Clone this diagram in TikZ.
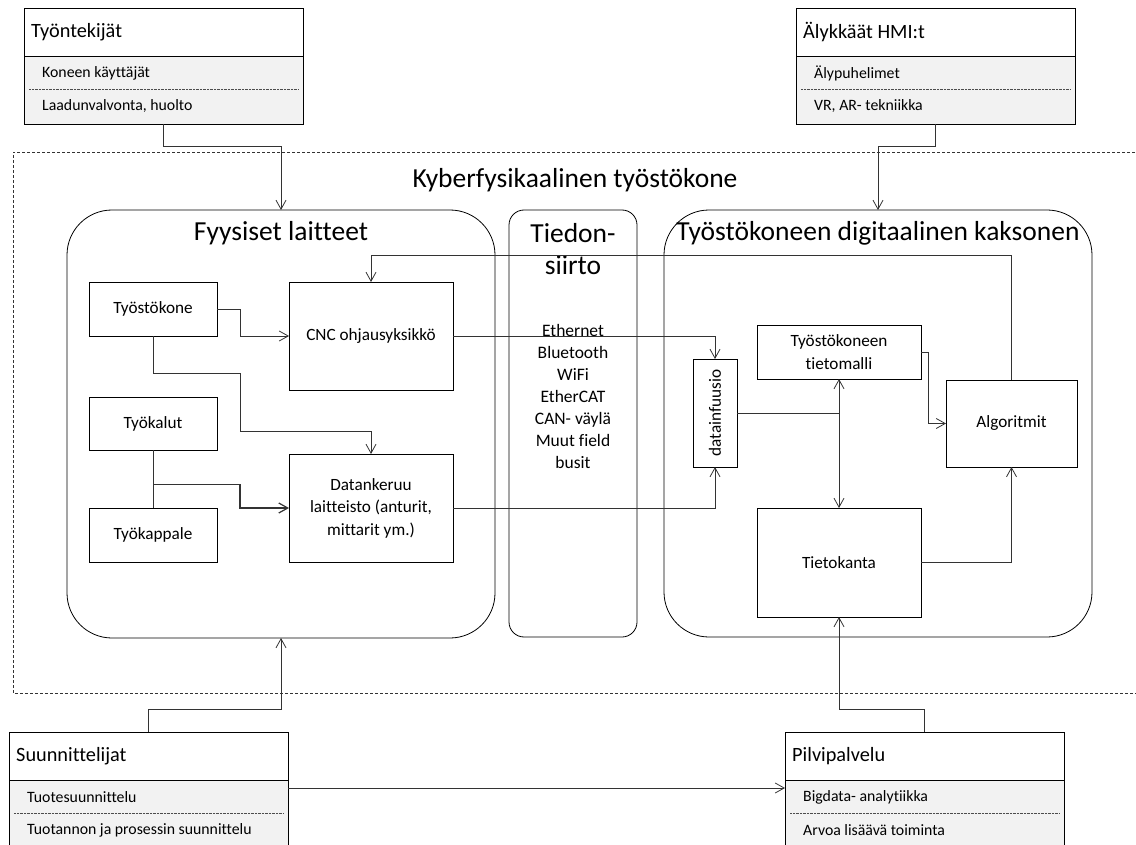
\documentclass[tikz,border=0pt]{standalone}
\usepackage{fontspec}
\setmainfont[Ligatures=NoCommon]{Carlito}
\usetikzlibrary{arrows.meta}

\tikzset{
  >={Straight Barb[length=9pt,width=10pt]},
  conn/.style={draw=black!80, line width=0.8pt},
  box/.style={draw, line width=0.8pt, fill=white, outer sep=0pt, align=center,
    font=\fontsize{17.2}{22.5}\selectfont},
  alue/.style={draw, line width=0.8pt, outer sep=0pt},
  otsikko/.style={font=\fontsize{27.5}{32}\selectfont, align=center},
  otsake/.style={draw, line width=0.8pt, fill=white, anchor=north west, outer sep=0pt,
    minimum width=279pt, minimum height=48pt},
  runko/.style={draw, line width=0.8pt, fill=black!5, anchor=north west, outer sep=0pt,
    minimum width=279pt, minimum height=68pt},
  otsaketeksti/.style={anchor=west, inner sep=0pt, font=\fontsize{20.3}{24}\selectfont},
  kohta/.style={anchor=west, inner sep=0pt, font=\fontsize{15.8}{19}\selectfont}
}

\begin{document}
\begin{tikzpicture}[x=1pt, y=-1pt]
    \clip (0,0) rectangle (1136,845);
    % Cyber-physical machine tool frame
    \draw[dash pattern=on 3pt off 2pt, black!80] (1140,152) -- (13,152) -- (13,693) -- (1140,693);
    \node[otsikko] (cps) at (575,180) {Kyberfysikaalinen työstökone};
    % Areas
    \node[alue, rounded corners=45pt, minimum width=428pt, minimum height=428pt] (fyys) at (281,424) {};
    \node[otsikko] (fyys-t) at (281,233) {Fyysiset laitteet};
    \node[alue, rounded corners=15pt, minimum width=128pt, minimum height=427pt] (siirto) at (573,423.5) {};
    \node[otsikko] (siirto-t) at (573,249) {Tiedon-\\siirto};
    \node[align=center, font=\fontsize{17.5}{22}\selectfont] (vaylat) at (573,396)
      {Ethernet\\Bluetooth\\WiFi\\EtherCAT\\CAN- väylä\\Muut field\\busit};
    \node[alue, rounded corners=45pt, minimum width=428pt, minimum height=427pt] (twin) at (878,423.5) {};
    \node[otsikko] (twin-t) at (878,233) {Työstökoneen digitaalinen kaksonen};
    % Physical devices
    \node[box, minimum width=128pt, minimum height=54pt] (tyostokone) at (153,309) {Työstökone};
    \node[box, minimum width=128pt, minimum height=53pt] (tyokalut) at (153,423.5) {Työkalut};
    \node[box, minimum width=128pt, minimum height=54pt] (tyokappale) at (153,535) {Työkappale};
    \node[box, minimum width=164pt, minimum height=108pt] (cnc) at (371,336) {CNC ohjausyksikkö};
    \node[box, minimum width=164pt, minimum height=108pt] (datankeruu) at (371,508)
      {Datankeruu\\laitteisto (anturit,\\mittarit ym.)};
    % Digital twin
    \node[box, minimum width=44pt, minimum height=108pt] (fuusio) at (715,413) {};
    \node[rotate=90, font=\fontsize{17.2}{20}\selectfont] (fuusio-t) at (fuusio) {datainfuusio};
    \node[box, minimum width=164pt, minimum height=54pt] (tietomalli) at (839,352)
      {Työstökoneen\\tietomalli};
    \node[box, minimum width=131pt, minimum height=87pt] (algoritmit) at (1011.5,423.5) {Algoritmit};
    \node[box, minimum width=164pt, minimum height=109pt] (tietokanta) at (839,562.5) {Tietokanta};
    % Stakeholders
    \foreach \nm/\x/\y/\title/\one/\two in {
        tyontekijat/24/8/Työntekijät/Koneen käyttäjät/{Laadunvalvonta, huolto},
        hmi/796/8/Älykkäät HMI:t/Älypuhelimet/{VR, AR- tekniikka},
        suunn/9/732/Suunnittelijat/Tuotesuunnittelu/Tuotannon ja prosessin suunnittelu,
        pilvi/785/732/Pilvipalvelu/Bigdata- analytiikka/Arvoa lisäävä toiminta}{
      \node[otsake] (\nm) at (\x,\y) {};
      \node[otsaketeksti] (\nm-t) at ([xshift=7pt]\nm.west) {\title};
      \node[runko] (\nm-b) at (\nm.south west) {};
      \node[kohta] (\nm-1) at ([xshift=18pt,yshift=-17pt]\nm-b.north west) {\one};
      \node[kohta] (\nm-2) at ([xshift=18pt,yshift=-50pt]\nm-b.north west) {\two};
      \draw[densely dotted, black!70] ([xshift=5pt,yshift=-33pt]\nm-b.north west)
        -- ([xshift=-5pt,yshift=-33pt]\nm-b.north east);
    }
    % Connections to the stakeholders
    \draw[conn, ->] (tyontekijat-b.south) -- ++(0,22) -| (fyys.north);
    \draw[conn, ->] (hmi-b.south) -- ++(0,22) -| (twin.north);
    \draw[conn, ->] (suunn.north) -- ++(0,-23) -| (fyys.south);
    \draw[conn, ->] (pilvi.north) -- ++(0,-23) -| (tietokanta.south);
    \draw[conn, ->] ([yshift=-8pt]suunn-b.north east) -- ([yshift=-8pt]pilvi-b.north west);
    % Physical side
    \draw[conn, ->] (tyostokone.east) -- ++(23,0) |- (cnc.west);
    \draw[conn, ->] (tyostokone.south) -- ++(0,37) -- ++(87,0) -- ++(0,58) -| (datankeruu.north);
    \draw[conn] (tyokalut.south) -- coordinate[pos=0.6] (liitos) (tyokappale.north);
    \draw[conn, ->, line width=1.2pt] (liitos) -- ++(87,0) |- (datankeruu.west);
    % Data transfer
    \draw[conn, ->] (cnc.east) -| (fuusio.north);
    \draw[conn, ->] (datankeruu.east) -| (fuusio.south);
    \draw[conn, ->] (algoritmit.north) -- ++(0,-125) -| (cnc.north);
    % Digital twin side
    \draw[conn] (fuusio.east) -- (fuusio.east -| tietomalli.south);
    \draw[conn, <->] (tietomalli.south) -- (tietokanta.north);
    \draw[conn, ->] (tietomalli.east) -- ++(7,0) |- (algoritmit.west);
    \draw[conn, ->] (tietokanta.east) -| (algoritmit.south);
\end{tikzpicture}
\end{document}
